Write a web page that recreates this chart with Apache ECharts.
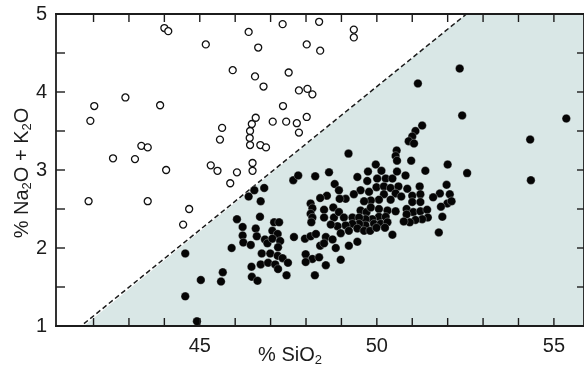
<!DOCTYPE html>
<html><head><meta charset="utf-8">
<script src="https://cdn.jsdelivr.net/npm/echarts@6/dist/echarts.min.js"></script>
<style>html,body{margin:0;padding:0;background:#fff}#c{width:584px;height:369px}</style>
</head><body><div id="c"></div>
<script>
// Open circles (above the dividing line)
const openSiO2 = [44.00,44.11,45.17,46.38,47.34,46.65,48.02,48.40,48.37,49.35,49.35,45.93,46.56,47.51,46.80,47.80,48.04,48.18,42.90,42.02,43.88,41.91,47.35,46.58,46.47,46.42,46.41,46.42,47.06,47.44,47.74,48.02,47.80,45.63,45.57,46.71,46.87,43.35,43.53,42.55,43.17,44.05,45.31,45.50,46.05,46.49,46.49,45.86,41.86,43.53,44.70,44.53];
const openAlk  = [4.82,4.78,4.61,4.77,4.87,4.57,4.61,4.53,4.90,4.80,4.70,4.28,4.20,4.25,4.07,4.02,4.04,3.97,3.93,3.82,3.83,3.63,3.82,3.67,3.59,3.50,3.41,3.32,3.62,3.62,3.60,3.68,3.48,3.54,3.39,3.32,3.29,3.31,3.29,3.15,3.14,3.00,3.06,2.99,2.97,3.09,2.99,2.83,2.60,2.60,2.50,2.30];
// Filled circles (below the dividing line)
const filledSiO2 = [
 47.64,47.78,46.82,46.54,46.38,46.72,46.70,46.05,46.21,46.21,46.23,46.58,46.61,46.44,47.10,47.24,47.05,47.20,46.84,46.91,47.05,47.27,47.21,47.66,45.90,44.59,46.75,46.99,47.20,47.34,46.72,46.93,47.13,47.49,46.46,47.21,45.65,47.45,46.47,46.63,45.03,45.60,44.59,44.92,
 49.20,48.26,48.65,48.81,48.93,49.45,49.75,49.97,50.13,50.01,49.73,50.25,50.44,50.57,50.56,50.53,50.57,49.99,49.78,49.54,49.35,49.12,48.95,48.59,48.40,50.20,50.39,50.61,50.53,50.20,50.39,50.69,50.06,49.83,49.64,
 48.13,48.18,48.13,48.18,48.15,48.51,48.51,48.77,48.79,48.93,49.07,49.31,49.54,49.71,49.83,50.06,50.30,50.53,50.06,50.25,49.87,49.68,49.50,49.92,50.11,50.30,49.68,49.50,49.31,49.12,48.89,48.70,49.45,49.64,49.21,48.98,49.81,49.99,50.23,50.44,
 47.97,48.13,48.56,48.75,48.40,48.51,48.84,49.21,49.45,47.99,48.18,48.37,47.99,48.56,48.98,48.25,48.28,
 52.34,51.16,52.41,51.28,51.09,51.00,50.90,51.05,50.97,52.00,52.55,51.37,50.81,51.21,50.86,51.00,51.23,51.00,51.23,51.97,51.78,52.06,51.59,51.99,52.11,51.81,50.84,51.03,51.23,51.42,50.84,51.44,51.28,51.09,50.93,50.76,51.75,51.85,55.35,54.33,54.35];
const filledAlk = [
 2.87,2.93,2.77,2.74,2.66,2.60,2.40,2.37,2.27,2.16,2.07,2.25,2.15,2.04,2.33,2.33,2.22,2.18,2.11,2.06,2.12,2.09,2.01,2.14,2.00,1.93,1.93,1.93,1.90,1.87,1.79,1.81,1.79,1.81,1.76,1.73,1.69,1.65,1.63,1.58,1.59,1.57,1.38,1.06,
 3.21,2.92,2.97,2.82,2.74,2.91,2.98,3.07,2.99,2.89,2.86,2.89,2.89,2.98,3.25,3.18,3.12,2.78,2.72,2.74,2.69,2.63,2.63,2.67,2.64,2.79,2.77,2.79,2.70,2.69,2.62,2.66,2.62,2.61,2.60,
 2.57,2.51,2.44,2.39,2.33,2.49,2.39,2.52,2.39,2.46,2.39,2.39,2.48,2.46,2.52,2.50,2.48,2.47,2.40,2.40,2.37,2.37,2.39,2.31,2.31,2.33,2.29,2.31,2.31,2.29,2.28,2.30,2.25,2.22,2.22,2.19,2.22,2.26,2.26,2.17,
 2.12,2.15,2.14,2.11,2.03,2.06,2.00,2.03,2.08,1.92,1.86,1.88,1.82,1.78,1.85,1.65,2.18,
 4.30,4.11,3.70,3.57,3.50,3.43,3.37,3.34,3.12,3.07,2.96,2.99,2.93,2.79,2.76,2.67,2.69,2.59,2.59,2.81,2.70,2.69,2.65,2.57,2.60,2.53,2.50,2.46,2.47,2.49,2.43,2.39,2.37,2.36,2.33,2.34,2.20,2.40,3.66,3.39,2.87];
// Dividing line and shaded field (field corners in data units)
const boundarySiO2 = [41.73, 52.53];
const boundaryAlk = [1.03, 5];
const fieldSiO2 = [41.73, 52.53, 55.85, 55.85];
const fieldAlk = [1.0, 5, 5, 1.0];
// Axis ticks / labels
const xMin = 40.94, xMax = 55.85;
const xTicks = [42,43,44,45,46,47,48,49,50,51,52,53,54,55];
const xLabels = [45,50,55];
const yMin = 1, yMax = 5, yStep = 0.5;
const yTicks = [1.5,2,2.5,3,3.5,4,4.5];

const zip = (a, b) => a.map((v, i) => [v, b[i]]);
const FONT = '"Liberation Sans", Arial, Helvetica, sans-serif';
const INK = '#1c1c1c';
const SHADE = '#d9e7e6';

// tick marks: [x, y, side] side 0=bottom,1=top,2=left,3=right
const tickData = [].concat(
  xTicks.map(v => [v, yMin, 0]),
  xTicks.map(v => [v, yMax, 1]),
  yTicks.map(v => [xMin, v, 2]),
  yTicks.map(v => [xMax, v, 3])
);
const tickLen = [8, 8, 9, 7];
const TW = 1.4; // tick thickness
const FW = 1.8; // frame thickness

const chart = echarts.init(document.getElementById('c'));
chart.setOption({
  animation: false,
  backgroundColor: '#ffffff',
  grid: {left: 56, right: -1, top: 14, bottom: 43},
  xAxis: [
    {type: 'value', min: xMin, max: xMax, position: 'bottom',
     axisLine: {show: false, onZero: false}, splitLine: {show: false}, axisTick: {show: false},
     axisLabel: {show: true, customValues: xLabels, margin: 10, fontSize: 20, fontFamily: FONT, color: INK}}
  ],
  yAxis: [
    {type: 'value', min: yMin, max: yMax, interval: yStep, position: 'left',
     axisLine: {show: false, onZero: false}, splitLine: {show: false}, axisTick: {show: false},
     axisLabel: {margin: 9, fontSize: 20, fontFamily: FONT, color: INK,
       formatter: v => (Math.abs(v - Math.round(v)) < 1e-9 ? String(Math.round(v)) : '')}}
  ],
  graphic: [
    {type: 'text', x: 290, y: 355, z: 10,
     style: {text: '% SiO{s|2}', fontSize: 20, lineHeight: 24, fontFamily: FONT, fill: INK,
       align: 'center', verticalAlign: 'middle',
       rich: {s: {fontSize: 13, lineHeight: 13, verticalAlign: 'bottom', fontFamily: FONT, fill: INK}}}},
    {type: 'text', x: 22, y: 173, rotation: Math.PI / 2, z: 10,
     style: {text: '% Na{s|2}O + K{s|2}O', fontSize: 20, lineHeight: 24, fontFamily: FONT, fill: INK,
       align: 'center', verticalAlign: 'middle',
       rich: {s: {fontSize: 13, lineHeight: 13, verticalAlign: 'bottom', fontFamily: FONT, fill: INK}}}}
  ],
  series: [
    // shaded field as a filled polygon
    {type: 'custom', data: [[0]], z: 1, silent: true, clip: false,
     renderItem: (params, api) => ({
       type: 'polygon',
       shape: {points: fieldSiO2.map((x, i) => api.coord([x, fieldAlk[i]]))},
       style: {fill: SHADE}
     })},
    {type: 'line', data: zip(boundarySiO2, boundaryAlk),
     symbol: 'none', z: 2, lineStyle: {color: INK, width: 1.5, type: [5, 3]}},
    {type: 'scatter', data: zip(openSiO2, openAlk), z: 3,
     symbol: 'circle', symbolSize: 7,
     itemStyle: {color: '#ffffff', borderColor: '#111', borderWidth: 1.3, opacity: 1}},
    {type: 'scatter', data: zip(filledSiO2, filledAlk), z: 4,
     symbol: 'circle', symbolSize: 8.5,
     itemStyle: {color: '#050505', borderColor: 'rgba(235,242,242,0.6)', borderWidth: 0.5, opacity: 1}},
    // frame drawn as filled bars along the four edges of the data range
    {type: 'custom', data: [[xMin, yMin, xMax, yMax]], z: 7, silent: true, clip: false,
     renderItem: (params, api) => {
       const a = api.coord([api.value(0), api.value(1)]); // bottom-left
       const b = api.coord([api.value(2), api.value(3)]); // top-right
       const h = FW / 2;
       return {type: 'group', children: [
         {type: 'rect', shape: {x: a[0] - h, y: b[1] - h, width: b[0] - a[0] + FW, height: FW}, style: {fill: INK}},
         {type: 'rect', shape: {x: a[0] - h, y: a[1] - h, width: b[0] - a[0] + FW, height: FW}, style: {fill: INK}},
         {type: 'rect', shape: {x: a[0] - h, y: b[1] - h, width: FW, height: a[1] - b[1] + FW}, style: {fill: INK}},
         {type: 'rect', shape: {x: b[0] - h, y: b[1] - h, width: FW, height: a[1] - b[1] + FW}, style: {fill: INK}}
       ]};
     }},
    // inward tick marks drawn as thin filled bars
    {type: 'custom', data: tickData, z: 6, silent: true, clip: false,
     renderItem: (params, api) => {
       const p = api.coord([api.value(0), api.value(1)]);
       const side = api.value(2);
       const L = tickLen[side];
       let shape;
       if (side === 0) shape = {x: p[0] - TW / 2, y: p[1] - L, width: TW, height: L};
       else if (side === 1) shape = {x: p[0] - TW / 2, y: p[1], width: TW, height: L};
       else if (side === 2) shape = {x: p[0], y: p[1] - TW / 2, width: L, height: TW};
       else shape = {x: p[0] - L, y: p[1] - TW / 2, width: L, height: TW};
       return {type: 'rect', shape: shape, style: {fill: INK}};
     }}
  ]
});
</script>
</body></html>
